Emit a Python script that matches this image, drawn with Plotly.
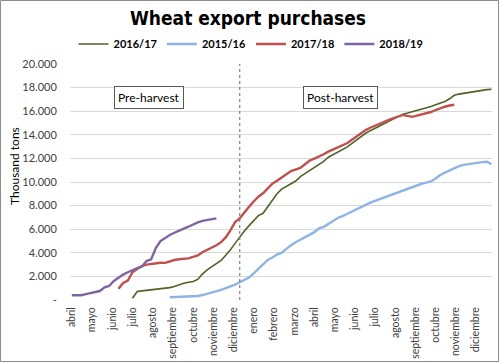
import plotly.graph_objects as go

# ---------------- data (thousand tons, weekly since 1 April of the MY) ----------------
months = ["abril", "mayo", "junio", "julio", "agosto", "septiembre", "octubre",
          "noviembre", "diciembre", "enero", "febrero", "marzo", "abril", "mayo",
          "junio", "julio", "agosto", "septiembre", "octubre", "noviembre", "diciembre"]

y_tickvals = [0, 2000, 4000, 6000, 8000, 10000, 12000, 14000, 16000, 18000, 20000]
y_ticktext = ["-", "2.000", "4.000", "6.000", "8.000", "10.000", "12.000",
              "14.000", "16.000", "18.000", "20.000"]

harvest_week = 36

s1617_start = 13
s1617 = [150, 720, 770, 810, 860, 900, 950, 990, 1050, 1150, 1300, 1420, 1500, 1560,
         1750, 2200, 2550, 2800, 3050, 3350, 3800, 4250, 4800, 5370, 5850, 6300, 6700,
         7150, 7350, 7900, 8500, 9000, 9400, 9650, 9880, 10080, 10450, 10700, 10950,
         11200, 11500, 11750, 12100, 12300, 12550, 12750, 12950, 13250, 13550, 13850,
         14130, 14350, 14550, 14690, 14900, 15100, 15300, 15500, 15750, 15850, 15950,
         16100, 16200, 16280, 16400, 16550, 16700, 16820, 17050, 17350, 17450, 17520,
         17600, 17680, 17750, 17800, 17830, 17860]

s1516_start = 21
s1516 = [230, 240, 250, 270, 290, 310, 340, 420, 520, 610, 700, 850, 1000, 1130, 1300,
         1500, 1700, 1900, 2250, 2650, 3050, 3400, 3600, 3850, 4000, 4350, 4650, 4900,
         5100, 5310, 5550, 5750, 6070, 6200, 6450, 6700, 6950, 7100, 7300, 7450, 7650,
         7850, 8050, 8250, 8400, 8550, 8700, 8850, 9000, 9150, 9300, 9400, 9550, 9750,
         9850, 9950, 10050, 10300, 10600, 10800, 11000, 11200, 11350, 11450, 11520,
         11580, 11640, 11680, 11720, 11500]

s1718_start = 10
s1718 = [950, 1450, 1650, 2350, 2630, 2880, 3000, 3070, 3150, 3160, 3150, 3300, 3390,
         3450, 3500, 3530, 3650, 3780, 4050, 4240, 4450, 4640, 4900, 5300, 5900, 6600,
         6920, 7450, 7900, 8350, 8750, 9040, 9450, 9850, 10100, 10350, 10650, 10930,
         11050, 11200, 11500, 11810, 11980, 12150, 12350, 12570, 12750, 12900, 13100,
         13280, 13550, 13840, 14150, 14400, 14600, 14780, 14950, 15100, 15260, 15420,
         15560, 15680, 15600, 15520, 15620, 15720, 15820, 15930, 16100, 16250, 16380,
         16480, 16550]

s1819_start = 0
s1819 = [400, 400, 400, 500, 600, 700, 760, 1075, 1190, 1610, 1920, 2150, 2350, 2540,
         2700, 2820, 3300, 3450, 4400, 5000, 5280, 5510, 5700, 5900, 6050, 6210, 6400,
         6580, 6700, 6780, 6850, 6920]

series = [
    ("2016/17", s1617_start, s1617, "#4f6228", 1.6),
    ("2015/16", s1516_start, s1516, "#8db4e2", 2.4),
    ("2017/18", s1718_start, s1718, "#c0504d", 2.4),
    ("2018/19", s1819_start, s1819, "#8064a2", 2.4),
]

FONT = "Lato"
TXT = "#404040"

fig = go.Figure()
for name, start, vals, color, w in series:
    fig.add_trace(go.Scatter(
        x=list(range(start, start + len(vals))), y=vals, name=name, mode="lines",
        line=dict(color=color, width=w)))

tickweeks = [i * 52 / 12 for i in range(len(months))]

L, R, T, B = 70, 8, 64, 63
W, H = 500, 363
pw, ph = W - L - R, H - T - B

def px2paper_x(px):
    return (px - L) / pw

def px2paper_y(py):
    return (H - B - py) / ph

fig.update_layout(
    width=W, height=H,
    margin=dict(l=L, r=R, t=T, b=B, autoexpand=False),
    paper_bgcolor="white", plot_bgcolor="white",
    font=dict(family=FONT, color=TXT, size=11),
    title=dict(text="<b>Wheat export purchases</b>", x=0.496, xanchor="center",
               y=1 - 18 / H, yanchor="middle",
               font=dict(family="DejaVu Sans Condensed, Roboto, sans-serif", size=19,
                         color="black")),
    showlegend=True,
    legend=dict(orientation="h", x=px2paper_x(251), xanchor="center",
                y=px2paper_y(44), yanchor="middle",
                font=dict(family=FONT, size=11, color="black", weight="bold"),
                itemwidth=30, tracegroupgap=0, bgcolor="rgba(0,0,0,0)"),
    xaxis=dict(range=[-0.4, 90.1], tickmode="array", tickvals=tickweeks,
               ticktext=months, tickangle=-90, showgrid=False, zeroline=False,
               showline=False, ticks="outside", ticklen=2,
               tickcolor="rgba(0,0,0,0)", tickfont=dict(size=10.5, color=TXT),
               fixedrange=True, automargin=False),
    yaxis=dict(range=[0, 20000], tickmode="array", tickvals=y_tickvals,
               ticktext=y_ticktext, showgrid=True, gridcolor="#d9d9d9", gridwidth=1,
               zeroline=False, showline=False, ticks="outside", ticklen=10,
               tickcolor="rgba(0,0,0,0)",
               tickfont=dict(size=11, color=TXT), fixedrange=True, automargin=False),
)

# dashed harvest divider
fig.add_shape(type="line", xref="x", yref="paper", x0=harvest_week, x1=harvest_week,
              y0=0, y1=1, line=dict(color="#7f7f7f", width=1.2, dash="dot"))

# y-axis title
fig.add_annotation(text="Thousand tons", textangle=-90, xref="paper", yref="paper",
                   x=px2paper_x(14), y=px2paper_y(166), xanchor="center",
                   yanchor="middle", showarrow=False,
                   font=dict(family=FONT, size=12, color="black"))

# boxed labels
for txt, cx in [("Pre-harvest", 149), ("Post-harvest", 340)]:
    fig.add_annotation(text=txt, xref="paper", yref="paper",
                       x=px2paper_x(cx), y=px2paper_y(98), xanchor="center",
                       yanchor="middle", showarrow=False,
                       font=dict(family=FONT, size=12, color="black"),
                       bordercolor="#595959", borderwidth=1, borderpad=3,
                       bgcolor="white")

# outer chart frame
fig.add_shape(type="rect", xref="paper", yref="paper",
              x0=px2paper_x(0.5), x1=px2paper_x(498.5),
              y0=px2paper_y(361.5), y1=px2paper_y(0.5),
              line=dict(color="#8c8c8c", width=1), layer="below")

fig.write_html("out.html", config={"displayModeBar": False},
               post_script="document.body.style.margin='0';document.body.style.overflow='hidden';")
